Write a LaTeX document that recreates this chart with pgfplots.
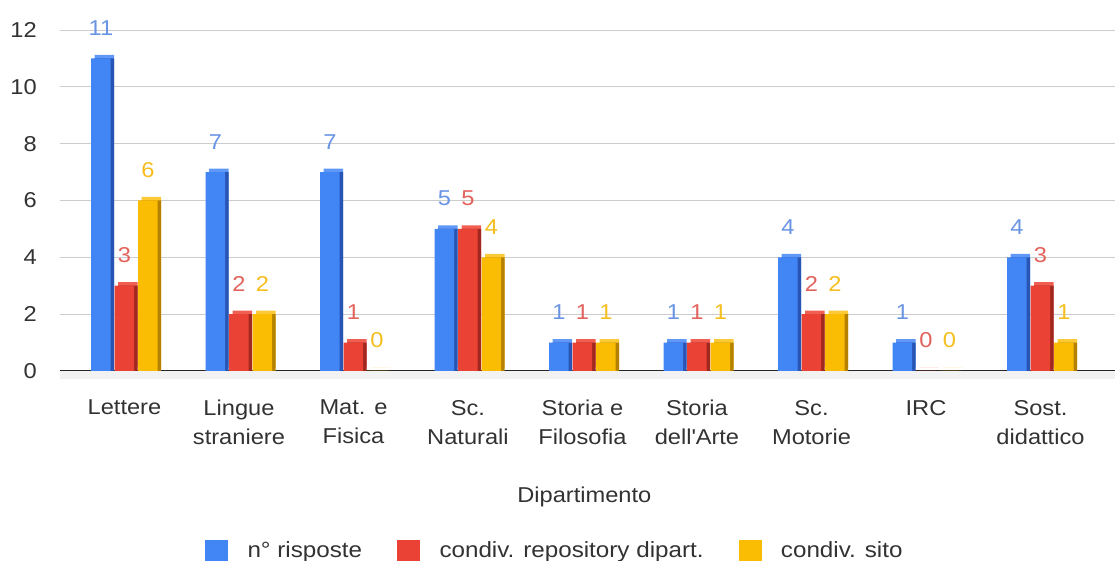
\documentclass[border=0pt]{standalone}
\usepackage{fontspec}
\setmainfont{Liberation Sans}[FakeStretch=1.1]
\usepackage{pgfplots}
\usepackage{pgfplotstable}
\pgfplotsset{compat=1.18}
\definecolor{blueF}{RGB}{66,133,244}
\definecolor{blueS}{RGB}{40,85,180}
\definecolor{blueT}{RGB}{95,152,246}
\definecolor{blueL}{RGB}{105,148,228}
\definecolor{redF}{RGB}{234,67,53}
\definecolor{redS}{RGB}{160,40,30}
\definecolor{redT}{RGB}{240,95,82}
\definecolor{redL}{RGB}{226,98,92}
\definecolor{yelF}{RGB}{251,188,4}
\definecolor{yelS}{RGB}{180,130,0}
\definecolor{yelT}{RGB}{252,202,55}
\definecolor{yelL}{RGB}{245,190,30}
\definecolor{txt}{RGB}{50,50,50}
\pgfplotstableread{
x a b c
0 11 3 6
1 7 2 2
2 7 1 0
3 5 5 4
4 1 1 1
5 1 1 1
6 4 2 2
7 1 0 0
8 4 3 1
}\data
\newcommand{\ff}{\fontsize{21.5}{29}\selectfont}
\begin{document}
\begin{tikzpicture}
\path[use as bounding box] (0,0) rectangle (1115pt,561pt);
\begin{axis}[
  scale only axis, width=1055pt, height=341pt,
  at={(60pt,190pt)}, anchor=south west,
  xmin=-0.563, xmax=8.651, ymin=0, ymax=12,
  clip=false,
  axis line style={draw=none},
  major tick length=0pt,
  ytick={0,2,...,12},
  xtick={0,...,8},
  xticklabels={Lettere,Lingue\\straniere,Mat. e\\Fisica,Sc.\\Naturali,Storia e\\Filosofia,Storia\\dell\textquotesingle Arte,Sc.\\Motorie,IRC,Sost.\\didattico},
  /pgf/number format/assume math mode=true,
  ymajorgrids,
  grid style={color=black!20, line width=0.9pt},
  extra y ticks={0},
  extra y tick labels={},
  extra y tick style={grid style={color=black!85, line width=1.3pt}},
  yticklabel style={font=\ff, color=txt, anchor=east, inner sep=0pt, xshift=-23pt},
  xticklabel style={font=\ff, color=txt, align=center, anchor=north, inner sep=0pt, yshift=-29pt},
  xlabel={Dipartimento},
  xlabel style={font=\ff, color=txt, at={(axis description cs:0.497,-0.387)}, anchor=base},
  legend columns=3,
  legend style={at={(rel axis cs:0.469,-0.525)}, anchor=center, draw=none, fill=none,
    font=\fontsize{22}{26}\selectfont, text=txt,
    /tikz/every odd column/.append style={column sep=18pt},
    /tikz/every even column/.append style={column sep=33pt}},
]
\fill[black!5] (rel axis cs:0,0) rectangle ([yshift=-8pt]rel axis cs:1,0);
% series a
\addplot[ybar, bar width=19.5pt, bar shift=-20pt, yshift=3.5pt, fill=blueT, draw=none, forget plot] table[x=x,y=a]{\data};
\addplot[ybar, bar width=19.5pt, bar shift=-20pt, fill=blueS, draw=none, forget plot] table[x=x,y=a]{\data};
\addplot[ybar, bar width=19.5pt, bar shift=-23.5pt, fill=blueF, draw=none, forget plot,
  nodes near coords, nodes near coords style={font=\ff, color=blueL, anchor=base, xshift=-23.5pt, yshift=23pt, inner sep=0pt}] table[x=x,y=a]{\data};
% series b
\addplot[ybar, bar width=19.5pt, bar shift=3.5pt, yshift=3.5pt, fill=redT, draw=none, forget plot] table[x=x,y=b]{\data};
\addplot[ybar, bar width=19.5pt, bar shift=3.5pt, fill=redS, draw=none, forget plot] table[x=x,y=b]{\data};
\addplot[ybar, bar width=19.5pt, bar shift=0pt, fill=redF, draw=none, forget plot,
  nodes near coords, nodes near coords style={font=\ff, color=redL, anchor=base, yshift=23pt, inner sep=0pt}] table[x=x,y=b]{\data};
% series c
\addplot[ybar, bar width=19.5pt, bar shift=27pt, yshift=3.5pt, fill=yelT, draw=none, forget plot] table[x=x,y=c]{\data};
\addplot[ybar, bar width=19.5pt, bar shift=27pt, fill=yelS, draw=none, forget plot] table[x=x,y=c]{\data};
\addplot[ybar, bar width=19.5pt, bar shift=23.5pt, fill=yelF, draw=none, forget plot,
  nodes near coords, nodes near coords style={font=\ff, color=yelL, anchor=base, xshift=23.5pt, yshift=23pt, inner sep=0pt}] table[x=x,y=c]{\data};
\addlegendimage{legend image code/.code={\fill[blueF] (0pt,-10pt) rectangle (22pt,10pt);}}
\addlegendentry{n° risposte}
\addlegendimage{legend image code/.code={\fill[redF] (0pt,-10pt) rectangle (22pt,10pt);}}
\addlegendentry{condiv. repository dipart.}
\addlegendimage{legend image code/.code={\fill[yelF] (0pt,-10pt) rectangle (22pt,10pt);}}
\addlegendentry{condiv. sito}
\end{axis}
\end{tikzpicture}
\end{document}
